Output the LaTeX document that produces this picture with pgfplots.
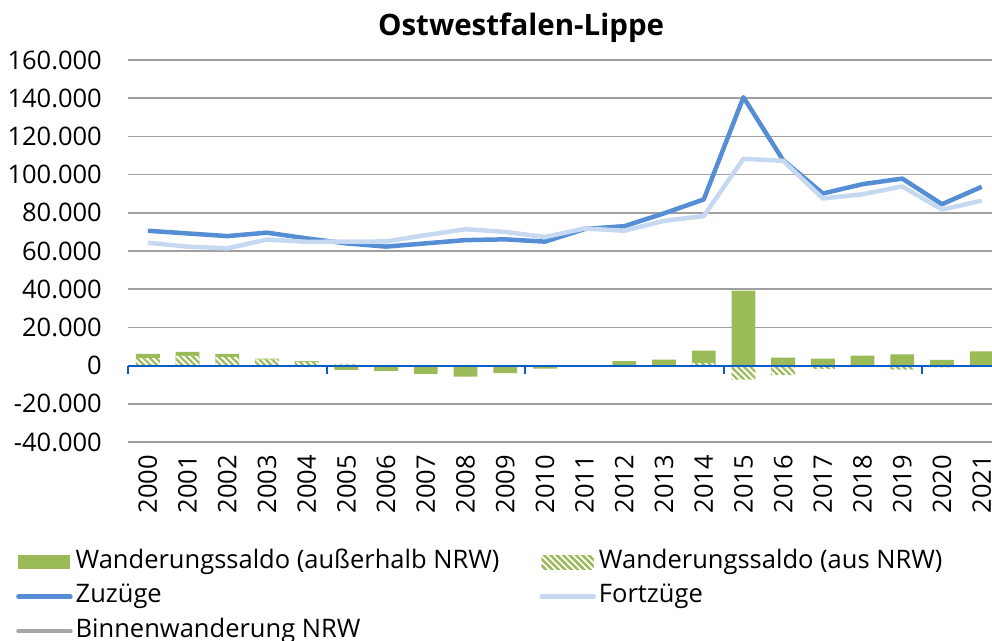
\documentclass[border=0pt]{standalone}
\usepackage{pgfplots}
\pgfplotsset{compat=1.18}
\usetikzlibrary{patterns.meta}
\usepackage{fontspec}
\setmainfont{Open Sans}
\definecolor{barg}{HTML}{9BBB59}
\definecolor{zuz}{HTML}{558ED5}
\definecolor{fort}{HTML}{C6D9F1}
\definecolor{binn}{HTML}{A6A6A6}
\definecolor{axb}{HTML}{0A5CC8}
\definecolor{gridc}{HTML}{A0A0A0}
\begin{document}
\begin{tikzpicture}
\pgfplotsset{
  common/.style={
    scale only axis, width=864bp, height=382bp,
    xmin=-0.5, xmax=21.26, ymin=-40000, ymax=160000,
  },
  lineleg/.style={legend image code/.code={\draw[##1, line cap=round] (0bp,0bp) -- (52bp,0bp);}},
}
\begin{axis}[common, name=main,
  font=\fontsize{25.5bp}{30bp}\selectfont,
  axis x line*=bottom, axis y line*=left,
  x axis line style={draw=none}, y axis line style={draw=none},
  xtick={0,...,21},
  xticklabels={2000,2001,2002,2003,2004,2005,2006,2007,2008,2009,2010,2011,2012,2013,2014,2015,2016,2017,2018,2019,2020,2021},
  x tick label style={rotate=90, anchor=east, inner sep=0pt},
  xticklabel shift=13bp,
  scaled y ticks=false,
  ytick={-40000,-20000,0,20000,40000,60000,80000,100000,120000,140000,160000},
  yticklabels={-40.000,-20.000,0,20.000,40.000,60.000,80.000,100.000,120.000,140.000,160.000},
  y tick label style={anchor=east, inner sep=0pt},
  yticklabel shift=26bp,
  major tick length=0pt,
  ymajorgrids, grid style={gridc, line width=1.5bp},
  title={Ostwestfalen-Lippe},
  title style={at={(0.455,1)}, anchor=base, yshift=19bp, font=\fontsize{29.5bp}{34bp}\selectfont\bfseries},
  legend columns=2,
  legend cell align=left,
  legend style={at={(0,0)}, anchor=north west, xshift=-112bp, yshift=-105bp, draw=none, fill=none, inner sep=0pt, row sep=4.5bp,
    font=\fontsize{25.5bp}{30bp}\selectfont,
    nodes={inner sep=3bp, text height=18bp, text depth=6bp},
    /tikz/every even column/.append style={column sep=37bp}},
]
\addplot[ybar, bar width=0.6, bar shift=0pt, fill=barg, draw=none,
  legend image code/.code={\fill[barg] (0bp,-7bp) rectangle (52bp,7bp);}]
  coordinates {(0,6100) (1,7200) (2,6100) (3,3700) (4,2400) (5,-2200) (6,-2800) (7,-4300) (8,-5800) (9,-4000) (10,-1600) (11,300) (12,2300) (13,3100) (14,7900) (15,39300) (16,4200) (17,3700) (18,5200) (19,5900) (20,3000) (21,7500)};
\addlegendentry{Wanderungssaldo (außerhalb NRW)}
\addplot[ybar, bar width=0.6, bar shift=0pt, fill=white, draw=none,
  postaction={pattern={Lines[angle=-45,distance=4.5bp,line width=2.2bp]}, pattern color=barg},
  legend image code/.code={\fill[pattern={Lines[angle=-45,distance=4.5bp,line width=2.2bp]}, pattern color=barg] (0bp,-7bp) rectangle (52bp,7bp);}]
  coordinates {(0,3900) (1,5100) (2,4400) (3,3200) (4,2000) (5,600) (6,0) (7,0) (8,0) (9,0) (10,-300) (11,-500) (12,0) (13,0) (14,1400) (15,-7300) (16,-5000) (17,-1700) (18,-500) (19,-2100) (20,-900) (21,300)};
\addlegendentry{Wanderungssaldo (aus NRW)}
\addplot[draw=axb, line width=2.2bp, forget plot, mark=none] coordinates {(-0.5,0) (21.26,0)};
\addplot[zuz, line width=4.5bp, line join=round, lineleg]
  coordinates {(0,70600) (1,69200) (2,67800) (3,69600) (4,66600) (5,64000) (6,62300) (7,64000) (8,65700) (9,66100) (10,64900) (11,71500) (12,73000) (13,79700) (14,87000) (15,140500) (16,107500) (17,90100) (18,95000) (19,97900) (20,84500) (21,93600)};
\addlegendentry{Zuzüge}
\addplot[fort, line width=4.5bp, line join=round, lineleg]
  coordinates {(0,64300) (1,62300) (2,61400) (3,66000) (4,64800) (5,64900) (6,65000) (7,68300) (8,71400) (9,70000) (10,67300) (11,71800) (12,70600) (13,75800) (14,78300) (15,108300) (16,107200) (17,87500) (18,89700) (19,93800) (20,81700) (21,86300)};
\addlegendentry{Fortzüge}
\addlegendimage{binn, line width=4.5bp, lineleg}
\addlegendentry{Binnenwanderung NRW}
\end{axis}
\begin{axis}[common, axis x line=middle, axis y line=none,
  xtick={-0.5,4.5,9.5,14.5,19.5}, xticklabels={}, ytick=\empty,
  x axis line style={draw=none},
  major tick length=8bp, tick align=outside,
  xtick style={draw=axb, line width=2bp}]
\end{axis}
\pgfresetboundingbox
\path (main.south west) ++(-128bp,-199bp) coordinate (bbA);
\path (main.north east) ++(0bp,60bp) coordinate (bbB);
\useasboundingbox (bbA) rectangle (bbB);
\end{tikzpicture}
\end{document}
